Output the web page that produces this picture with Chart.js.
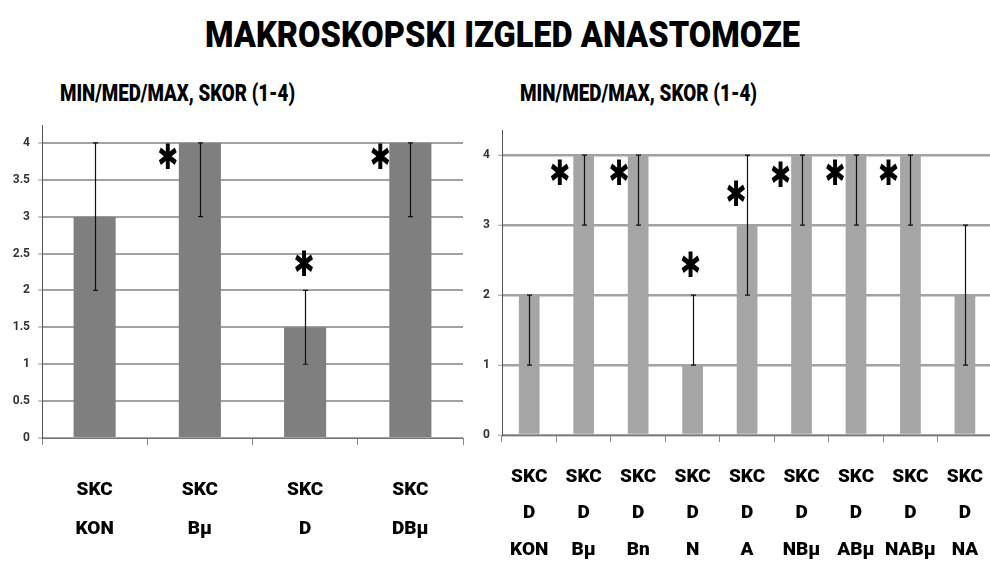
<!DOCTYPE html>
<html>
<head>
<meta charset="utf-8">
<script src="https://cdn.jsdelivr.net/npm/chart.js@4.4.1/dist/chart.umd.min.js"></script>
<style>
  body { margin: 0; width: 990px; height: 563px; overflow: hidden; background: #fff; position: relative; }
  .naslov { position: absolute; font-family: Roboto, 'DejaVu Sans', sans-serif; font-weight: 900;
            white-space: nowrap; color: #000; line-height: 1; transform-origin: 0 50%; }
  .okvir { position: absolute; overflow: hidden; }
</style>
</head>
<body>
<div class="naslov" id="glavni" data-w="595" style="left:205px; top:16px; font-size:37px;">MAKROSKOPSKI IZGLED ANASTOMOZE</div>
<div class="naslov" id="podLevo" data-w="235" style="left:60px; top:82px; font-size:23px;">MIN/MED/MAX, SKOR (1-4)</div>
<div class="naslov" id="podDesno" data-w="237" style="left:520px; top:82px; font-size:23px;">MIN/MED/MAX, SKOR (1-4)</div>

<div class="okvir" style="left:0; top:110px; width:470px; height:453px;">
  <canvas id="levo" width="470" height="453"></canvas>
</div>
<div class="okvir" style="left:470px; top:110px; width:530px; height:453px;">
  <canvas id="desno" width="530" height="453"></canvas>
</div>

<script>
// podaci - levi grafikon
const kategorijeLevo = [['SKC', 'KON'], ['SKC', 'Bµ'], ['SKC', 'D'], ['SKC', 'DBµ']];
const medijanaLevo = [3, 4, 1.5, 4];
const minLevo = [2, 3, 1, 3];
const maxLevo = [4, 4, 2, 4];
const zvezdiceLevo = [null, 3.77, 2.32, 3.77];
const podeokeLevo = [0, 0.5, 1, 1.5, 2, 2.5, 3, 3.5, 4];

// podaci - desni grafikon
const kategorijeDesno = [
    ['SKC', 'D', 'KON'], ['SKC', 'D', 'Bµ'], ['SKC', 'D', 'Bn'], ['SKC', 'D', 'N'], ['SKC', 'D', 'A'],
    ['SKC', 'D', 'NBµ'], ['SKC', 'D', 'ABµ'], ['SKC', 'D', 'NABµ'], ['SKC', 'D', 'NA']
];
const medijanaDesno = [2, 4, 4, 1, 3, 4, 4, 4, 2];
const minDesno = [1, 3, 3, 1, 2, 3, 3, 3, 1];
const maxDesno = [2, 4, 4, 2, 4, 4, 4, 4, 3];
const zvezdiceDesno = [null, 3.71, 3.71, 2.39, 3.41, 3.67, 3.71, 3.71, null];
const podeokeDesno = [0, 1, 2, 3, 4];

Chart.defaults.font.family = "Roboto, 'DejaVu Sans', sans-serif";

// naslovi - sabij tekst na sirinu iz originala
document.querySelectorAll('.naslov').forEach(el => {
    const c = document.createElement('canvas').getContext('2d');
    const st = getComputedStyle(el);
    c.font = `900 ${st.fontSize} ${st.fontFamily}`;
    const w = c.measureText(el.textContent).width;
    el.style.transform = `scaleX(${el.dataset.w / w})`;
});

// min/max linije i zvezdice
const greskePlugin = {
    id: 'greske',
    afterDatasetsDraw(chart, args, opts) {
        const ctx = chart.ctx;
        const y = chart.scales.y;
        const meta = chart.getDatasetMeta(0);
        ctx.save();
        ctx.strokeStyle = '#111';
        ctx.lineWidth = 1.2;
        opts.min.forEach((mn, i) => {
            const x = Math.round(meta.data[i].x) + 0.5;
            const y1 = y.getPixelForValue(mn);
            const y2 = y.getPixelForValue(opts.max[i]);
            ctx.beginPath();
            ctx.moveTo(x, y1); ctx.lineTo(x, y2);
            ctx.moveTo(x - 2.5, y1); ctx.lineTo(x + 2.5, y1);
            ctx.moveTo(x - 2.5, y2); ctx.lineTo(x + 2.5, y2);
            ctx.stroke();
        });
        ctx.fillStyle = '#000';
        ctx.font = 'bold 35px "DejaVu Sans"';
        ctx.textAlign = 'center';
        ctx.textBaseline = 'middle';
        opts.zvezdice.forEach((v, i) => {
            if (v == null) return;
            ctx.save();
            ctx.translate(meta.data[i].x + opts.pomak[i], y.getPixelForValue(v));
            ctx.scale(0.72, 1);
            ctx.fillText('✱', 0, 0);
            ctx.restore();
        });
        ctx.restore();
    }
};

function napraviGrafikon(id, kategorije, medijana, min, max, zvezdice, pomak, podeoke, boja, sirinaStubca, yMax, ySirina, xVisina, razmak, vrh, desno, lineH, pad) {
    return new Chart(document.getElementById(id), {
        type: 'bar',
        data: {
            labels: kategorije,
            datasets: [{
                data: medijana,
                backgroundColor: boja,
                barPercentage: sirinaStubca,
                categoryPercentage: 1
            }]
        },
        options: {
            responsive: false,
            animation: false,
            layout: { padding: { top: vrh, right: desno, left: 0, bottom: 0 } },
            plugins: {
                legend: { display: false },
                tooltip: { enabled: false },
                greske: { min: min, max: max, zvezdice: zvezdice, pomak: pomak }
            },
            scales: {
                x: {
                    grid: { drawOnChartArea: false, drawTicks: true, tickLength: 7, color: '#888' },
                    border: { color: '#777', width: 1 },
                    ticks: {
                        autoSkip: false, maxRotation: 0, color: '#000', padding: pad,
                        font: { size: 19, weight: 900, lineHeight: lineH }
                    },
                    afterFit: s => { s.height = xVisina; }
                },
                y: {
                    min: 0, max: yMax,
                    afterBuildTicks: s => { s.ticks = podeoke.map(v => ({ value: v })); },
                    grid: { color: '#a2a2a2', lineWidth: razmak, tickLength: 4, tickColor: '#999', tickWidth: 1 },
                    border: { color: '#555', width: 1 },
                    ticks: {
                        color: '#333', padding: 8, font: { size: 12, weight: 'bold' },
                        callback: v => String(v)
                    },
                    afterFit: s => { s.width = ySirina; }
                }
            }
        },
        plugins: [greskePlugin]
    });
}

napraviGrafikon('levo', kategorijeLevo, medijanaLevo, minLevo, maxLevo, zvezdiceLevo,
    [0, -32, -1, -30], podeokeLevo, '#7f7f7f', 0.4, 4.24, 42, 125, 2, 12, 7, 39 / 19, 25.5);

napraviGrafikon('desno', kategorijeDesno, medijanaDesno, minDesno, maxDesno, zvezdiceDesno,
    [0, -24, -19, -2, -11, -21, -21, -22, 0], podeokeDesno, '#a5a5a5', 0.38, 4.36, 32, 128, 2.5, 20, 4, 36.5 / 19, 16.75);
</script>
</body>
</html>
